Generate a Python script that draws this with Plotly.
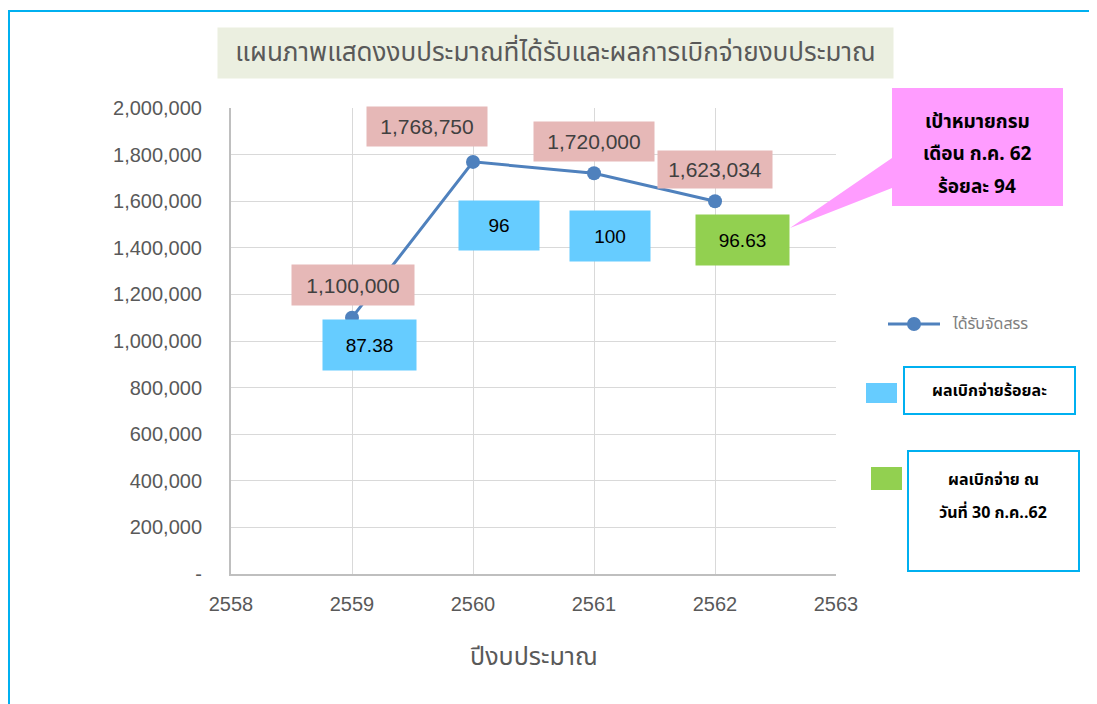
import plotly.graph_objects as go

# ---------------- data ----------------
years = [2559, 2560, 2561, 2562]
allocated = [1100000, 1768750, 1720000, 1600000]
allocated_labels = ["1,100,000", "1,768,750", "1,720,000", "1,623,034"]
disburse_pct = ["87.38", "96", "100", "96.63"]
x_ticks = [2558, 2559, 2560, 2561, 2562, 2563]
y_ticks = [0, 200000, 400000, 600000, 800000, 1000000, 1200000, 1400000,
           1600000, 1800000, 2000000]
y_ticktext = ["-", "200,000", "400,000", "600,000", "800,000", "1,000,000",
              "1,200,000", "1,400,000", "1,600,000", "1,800,000", "2,000,000"]

title_text = "แผนภาพแสดงงบประมาณที่ได้รับและผลการเบิกจ่ายงบประมาณ"
xaxis_title = "ปีงบประมาณ"
legend_line = "ได้รับจัดสรร"
legend_blue = "ผลเบิกจ่ายร้อยละ"
legend_green = ["ผลเบิกจ่าย ณ", "วันที่ 30 ก.ค..62"]
callout_lines = ["เป้าหมายกรม", "เดือน ก.ค. 62", "ร้อยละ 94"]

# ---------------- layout geometry (page pixels) ----------------
OX, OY = 8, 8                      # page body margin
W, H = 1097 - OX, 704 - OY
L, R, T, B = 231, 836, 108, 574    # plot area in page pixels
pw, ph = R - L, B - T


def px(x):
    return (x - L) / pw


def py(y):
    return (B - y) / ph


GRAY = "#595959"
LINE = "#4F81BD"
PINK = "#E6B8B7"
BLUE = "#66CCFF"
GREEN = "#92D050"
CYAN = "#00B0F0"
MAG = "#FF9CFF"
THAI = "Noto Sans Thai, Tahoma, Noto Sans, sans-serif"
NUM = "Liberation Sans Narrow, Liberation Sans, Arial, sans-serif"

fig = go.Figure()
fig.add_trace(go.Scatter(
    x=years, y=allocated, mode="lines+markers",
    line=dict(color=LINE, width=3),
    marker=dict(color=LINE, size=14),
    name=legend_line, showlegend=False, hoverinfo="x+y",
))

annotations = []
# pink value labels (offsets relative to data points)
pink_shift = [(1, 33), (-46, 35), (0, 32), (0, 32)]
pink_size = [(122, 40), (120, 39), (120, 39), (114, 37)]
for xv, yv, t, (dx, dy), (w, h) in zip(years, allocated, allocated_labels, pink_shift, pink_size):
    annotations.append(dict(
        x=xv, y=yv, xref="x", yref="y", text=t, showarrow=False,
        xshift=dx, yshift=dy, width=w, height=h, bgcolor=PINK, borderpad=0,
        font=dict(family=NUM, size=21, color="#404040"),
    ))

# blue / green percentage boxes
box_shift = [(17, -27), (26, -64), (16, -63), (27, -39)]
box_size = [(93, 50), (80, 49), (80, 50), (93, 50)]
box_col = [BLUE, BLUE, BLUE, GREEN]
for xv, yv, t, (dx, dy), (w, h), c in zip(years, allocated, disburse_pct, box_shift, box_size, box_col):
    annotations.append(dict(
        x=xv, y=yv, xref="x", yref="y", text=t, showarrow=False,
        xshift=dx, yshift=dy, width=w, height=h, bgcolor=c, borderpad=0,
        font=dict(family=NUM, size=19, color="#000000"),
    ))

# title
annotations.append(dict(
    x=px(555), y=py(53), xref="paper", yref="paper", text=title_text,
    showarrow=False, width=675, height=50, bgcolor="#EBEFE0", borderpad=0,
    font=dict(family=THAI, size=26, color=GRAY),
    xanchor="center", yanchor="middle",
))

# x-axis title
annotations.append(dict(
    x=px(534), y=py(657), xref="paper", yref="paper", text=xaxis_title,
    showarrow=False, font=dict(family=THAI, size=25, color=GRAY),
    xanchor="center", yanchor="middle",
))

# callout text (one annotation per line for exact spacing)
for i, t in enumerate(callout_lines):
    annotations.append(dict(
        x=px(977), y=py(122 + 32.5 * i), xref="paper", yref="paper", text="<b>" + t + "</b>",
        showarrow=False, font=dict(family=THAI, size=19, color="#000000"),
        xanchor="center", yanchor="middle",
    ))

# legend texts
annotations.append(dict(
    x=px(950), y=py(324), xref="paper", yref="paper", text=legend_line,
    showarrow=False, font=dict(family=THAI, size=16, color="#808080"),
    xanchor="left", yanchor="middle",
))
annotations.append(dict(
    x=px(989), y=py(391), xref="paper", yref="paper", text="<b>" + legend_blue + "</b>",
    showarrow=False, font=dict(family=THAI, size=16, color="#000000"),
    xanchor="center", yanchor="middle",
))
for i, t in enumerate(legend_green):
    annotations.append(dict(
        x=px(993), y=py(480 + 33 * i), xref="paper", yref="paper", text="<b>" + t + "</b>",
        showarrow=False, font=dict(family=THAI, size=16, color="#000000"),
        xanchor="center", yanchor="middle",
    ))

shapes = []
# outer border
shapes.append(dict(type="rect", xref="paper", yref="paper",
                   x0=px(9), x1=px(1110), y0=py(715), y1=py(11),
                   line=dict(color=CYAN, width=2), fillcolor="rgba(0,0,0,0)", layer="below"))
# callout pointer + box
path = "M {} {} L {} {} L {} {} L {} {} L {} {} L {} {} L {} {} Z".format(
    px(892), py(88), px(1063), py(88), px(1063), py(206), px(892), py(206),
    px(892), py(188), px(790), py(228), px(892), py(158))
shapes.append(dict(type="path", xref="paper", yref="paper", path=path,
                   fillcolor=MAG, line=dict(width=0)))
# legend: line with marker
shapes.append(dict(type="line", xref="paper", yref="paper",
                   x0=px(888), x1=px(940), y0=py(324), y1=py(324),
                   line=dict(color=LINE, width=3)))
shapes.append(dict(type="circle", xref="paper", yref="paper",
                   x0=px(907), x1=px(921), y0=py(331), y1=py(317),
                   fillcolor=LINE, line=dict(width=0)))
# legend: blue
shapes.append(dict(type="rect", xref="paper", yref="paper",
                   x0=px(866), x1=px(897), y0=py(403), y1=py(383),
                   fillcolor=BLUE, line=dict(width=0)))
shapes.append(dict(type="rect", xref="paper", yref="paper",
                   x0=px(904), x1=px(1075), y0=py(414), y1=py(367),
                   fillcolor="white", line=dict(color=CYAN, width=2)))
# legend: green
shapes.append(dict(type="rect", xref="paper", yref="paper",
                   x0=px(871), x1=px(902), y0=py(490), y1=py(467),
                   fillcolor=GREEN, line=dict(width=0)))
shapes.append(dict(type="rect", xref="paper", yref="paper",
                   x0=px(908), x1=px(1079), y0=py(571), y1=py(451),
                   fillcolor="white", line=dict(color=CYAN, width=2)))

fig.update_layout(
    width=W, height=H,
    margin=dict(l=L - OX, r=1097 - R, t=T - OY, b=704 - B, pad=0),
    paper_bgcolor="white", plot_bgcolor="white",
    showlegend=False,
    xaxis=dict(range=[2558, 2563], tickvals=x_ticks, ticktext=[str(v) for v in x_ticks],
               showgrid=True, gridcolor="#D9D9D9", gridwidth=1,
               showline=True, linecolor="#BFBFBF", linewidth=2,
               zeroline=False, ticks="", ticklabelstandoff=11,
               tickfont=dict(family=NUM, size=20, color=GRAY), fixedrange=True),
    yaxis=dict(range=[0, 2000000], tickvals=y_ticks, ticktext=y_ticktext,
               showgrid=True, gridcolor="#D9D9D9", gridwidth=1,
               showline=True, linecolor="#BFBFBF", linewidth=2,
               zeroline=False, ticks="", ticklabelstandoff=23,
               tickfont=dict(family=NUM, size=20, color=GRAY), fixedrange=True),
    annotations=annotations,
    shapes=shapes,
)

fig.write_html("out.html")
